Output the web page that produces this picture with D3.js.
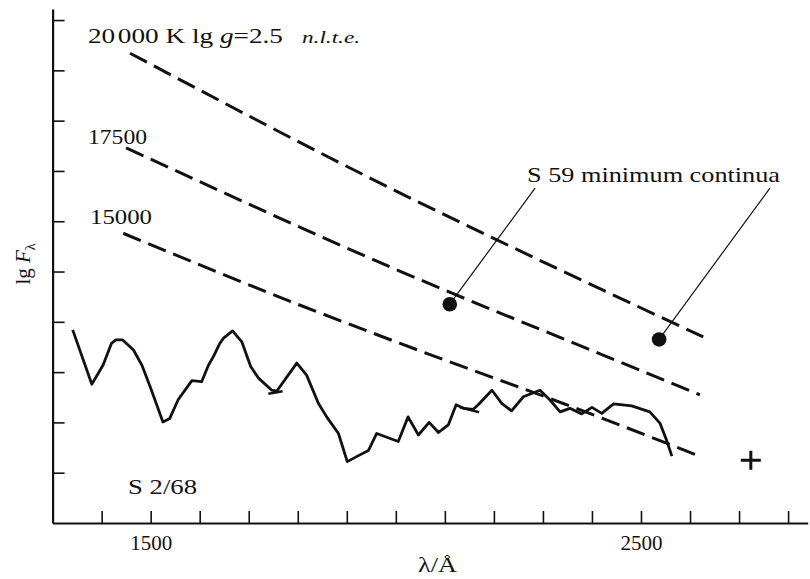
<!DOCTYPE html>
<html><head><meta charset="utf-8">
<script src="https://cdn.jsdelivr.net/npm/d3@7/dist/d3.min.js"></script>
<style>body{margin:0;background:#fff}svg{display:block}text{font-family:"Liberation Serif","DejaVu Serif",serif;fill:#111}</style>
</head><body>
<svg id="c" width="810" height="579"></svg>
<script>
// Observed spectrum S 2/68 (wavelength in Å, lg F in axis-tick units)
const specLambda = [1341,1380,1403,1420,1429,1443,1465,1482,1499,1525,1539,1556,1584,1604,1618,1628,1641,1648,1667,1686,1704,1720,1747,1757,1798,1818,1842,1859,1883,1901,1920,1944,1961,2005,2025,2046,2068,2087,2107,2123,2138,2158,2168,2196,2216,2236,2260,2294,2314,2335,2355,2379,2400,2420,2444,2481,2518,2539,2552,2563];
const specFlux   = [3.84,2.76,3.14,3.57,3.64,3.64,3.44,3.14,2.71,2.01,2.08,2.45,2.83,2.81,3.14,3.31,3.57,3.67,3.82,3.60,3.11,2.88,2.64,2.62,3.18,2.94,2.38,2.11,1.78,1.22,1.32,1.44,1.78,1.62,2.11,1.75,2.00,1.80,1.95,2.35,2.28,2.26,2.35,2.64,2.38,2.23,2.51,2.64,2.45,2.21,2.28,2.17,2.30,2.18,2.37,2.33,2.21,1.98,1.65,1.33];

// Model continua (non-LTE), lg g = 2.5
const model20000Lambda = [1458,2009,2206,2627];
const model20000Flux   = [9.34,6.56,5.63,3.70];
const model17500Lambda = [1450,2015,2430,2620];
const model17500Flux   = [7.46,4.98,3.31,2.55];
const model15000Lambda = [1444,1805,2009,2403,2614];
const model15000Flux   = [5.76,4.33,3.57,2.15,1.35];

// S 59 minimum continua points
const s59Lambda = [2110,2537];
const s59Flux   = [4.35,3.65];
// annotation anchor (label position) for leader lines
const s59LabelLambda = [2284,2763];
const s59LabelFlux   = [6.66,6.66];

// join marks on spectrum
const joinLambda = [[1740,1769],[2131,2170]];
const joinFlux   = [[2.57,2.62],[2.30,2.20]];

// plus marker
const plusLambda = 2724, plusFlux = 1.25;

const xTicks = [1400,1500,1600,1700,1800,1900,2000,2100,2200,2300,2400,2500,2600,2700,2800];
const xTickLabels = {1500:"1500",2500:"2500"};
const yTicks = [1,2,3,4,5,6,7,8,9,10];

const svg = d3.select("#c");
const x = d3.scaleLinear().domain([1300,2840]).range([52.6,807.7]);
const y = d3.scaleLinear().domain([0,10.22]).range([523,9]);

// axes
const gx = svg.append("g").attr("transform","translate(0,523)")
  .call(d3.axisBottom(x).tickValues(xTicks).tickSizeInner(-12).tickSizeOuter(0).tickPadding(12)
    .tickFormat(d => xTickLabels[d] || ""));
gx.select(".domain").attr("stroke","#111").attr("stroke-width",2.2);
gx.selectAll(".tick line").attr("stroke","#111").attr("stroke-width",1.6);
gx.selectAll(".tick text").attr("font-family","Liberation Serif").attr("font-size",21).attr("fill","#111")
  .attr("textLength",42).attr("lengthAdjust","spacingAndGlyphs");

const gy = svg.append("g").attr("transform","translate(52.6,0)")
  .call(d3.axisLeft(y).tickValues(yTicks).tickSizeInner(-12).tickSizeOuter(0).tickFormat(""));
gy.select(".domain").attr("stroke","#111").attr("stroke-width",2.2);
gy.selectAll(".tick line").attr("stroke","#111").attr("stroke-width",1.6);

// model dashed lines
const mline = d3.line().x(d=>x(d[0])).y(d=>y(d[1])).curve(d3.curveMonotoneX);
[[model20000Lambda,model20000Flux],[model17500Lambda,model17500Flux],[model15000Lambda,model15000Flux]]
.forEach(([L,F]) => {
  svg.append("path").datum(L.map((l,i)=>[l,F[i]])).attr("d",mline)
    .attr("fill","none").attr("stroke","#111").attr("stroke-width",3)
    .attr("stroke-dasharray","19,8");
});

// spectrum
const sline = d3.line().x(d=>x(d[0])).y(d=>y(d[1]));
svg.append("path").datum(specLambda.map((l,i)=>[l,specFlux[i]])).attr("d",sline)
  .attr("fill","none").attr("stroke","#111").attr("stroke-width",2.8).attr("stroke-linejoin","round");

joinLambda.forEach((L,i)=>{
  svg.append("line").attr("x1",x(L[0])).attr("x2",x(L[1]))
    .attr("y1",y(joinFlux[i][0])).attr("y2",y(joinFlux[i][1]))
    .attr("stroke","#111").attr("stroke-width",2.6);
});

// leader lines and dots
s59Lambda.forEach((l,i)=>{
  svg.append("line").attr("x1",x(l)).attr("y1",y(s59Flux[i]))
    .attr("x2",x(s59LabelLambda[i])).attr("y2",y(s59LabelFlux[i]))
    .attr("stroke","#111").attr("stroke-width",1.2);
  svg.append("circle").attr("cx",x(l)).attr("cy",y(s59Flux[i])).attr("r",7.3).attr("fill","#111");
});

// plus marker
const px = x(plusLambda), py = y(plusFlux);
svg.append("path").attr("d",`M${px-10},${py}H${px+10}M${px},${py-9.5}V${py+9.5}`)
  .attr("stroke","#111").attr("stroke-width",3);

// labels
const t1 = svg.append("text").attr("x",88).attr("y",43).attr("font-size",21)
  .attr("textLength",195).attr("lengthAdjust","spacingAndGlyphs");
t1.append("tspan").text("20");
t1.append("tspan").attr("dx",2).text("000 K lg ");
t1.append("tspan").attr("font-style","italic").text("g");
t1.append("tspan").text("=2.5");
svg.append("text").attr("x",302).attr("y",43).attr("font-size",16).attr("font-style","italic")
  .attr("textLength",58).attr("lengthAdjust","spacingAndGlyphs").text("n.l.t.e.");
svg.append("text").attr("x",88).attr("y",143.5).attr("font-size",21)
  .attr("textLength",59).attr("lengthAdjust","spacingAndGlyphs").text("17500");
svg.append("text").attr("x",90).attr("y",224).attr("font-size",21)
  .attr("textLength",62).attr("lengthAdjust","spacingAndGlyphs").text("15000");
svg.append("text").attr("x",527).attr("y",181.5).attr("font-size",21)
  .attr("textLength",253).attr("lengthAdjust","spacingAndGlyphs").text("S 59 minimum continua");
svg.append("text").attr("x",128).attr("y",494).attr("font-size",21)
  .attr("textLength",69).attr("lengthAdjust","spacingAndGlyphs").text("S 2/68");
svg.append("text").attr("x",418).attr("y",572).attr("font-size",21)
  .attr("textLength",39).attr("lengthAdjust","spacingAndGlyphs").text("λ/Å");

const yl = svg.append("text").attr("transform","translate(30,264) rotate(-90)")
  .attr("text-anchor","middle").attr("font-size",21);
yl.append("tspan").text("lg ");
yl.append("tspan").attr("font-style","italic").text("F");
yl.append("tspan").attr("font-size",14).attr("dy",5).text("λ");
</script>
</body></html>
